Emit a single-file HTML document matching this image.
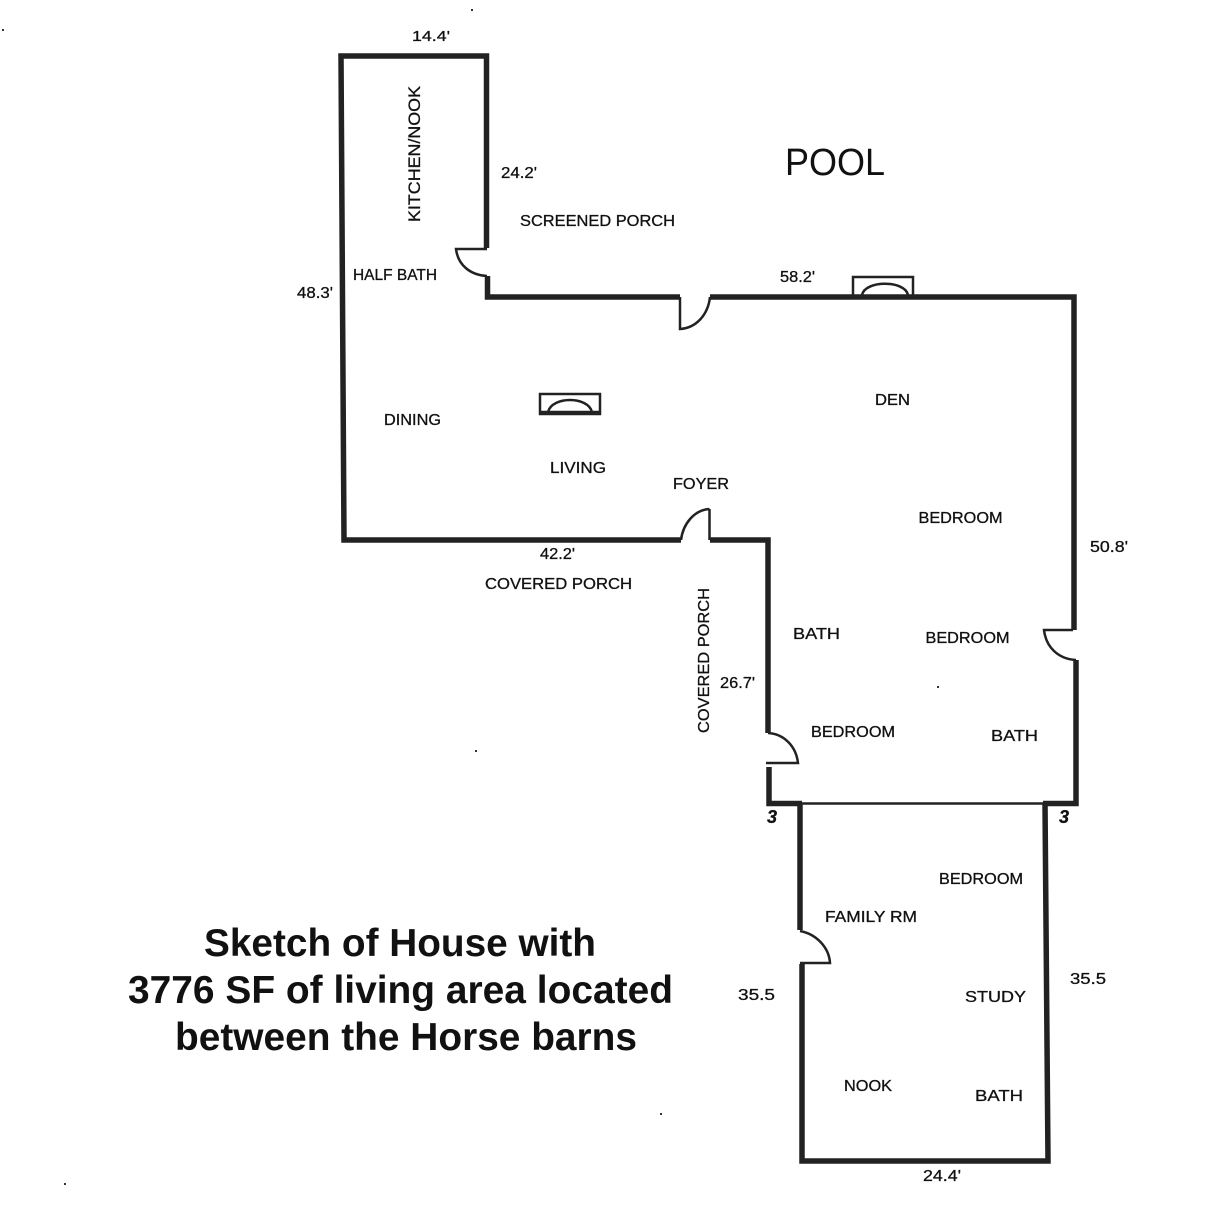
<!DOCTYPE html>
<html><head><meta charset="utf-8"><style>html,body{margin:0;padding:0;background:#fff}svg{display:block}text{font-family:"Liberation Sans",sans-serif;fill:#111}</style></head><body>
<svg width="1219" height="1213" viewBox="0 0 1219 1213" xmlns="http://www.w3.org/2000/svg">
<g fill="none" stroke="#222" stroke-width="5.5">
<path d="M486.5 248V56H341L344 540H681"/>
<path d="M487.500 276V297H680"/>
<path d="M710 297H1074V630"/>
<path d="M1076 660V803.500H1043"/>
<path d="M802 803.500H769V767"/>
<path d="M710 540H768V733"/>
<path d="M800 803V930"/>
<path d="M802 964V1161H1048L1045 803"/>
</g>
<g fill="none" stroke="#222" stroke-width="2.5">
<path d="M802 803.500H1043"/>
<path d="M487 249H456C458 265 470 275 487 276"/>
<path d="M680 297V329C696 328 708 315 710 297"/>
<path d="M709.500 509V540M681 540C683 524 694 510 709.500 509"/>
<path d="M1073 630H1044C1046 647 1058 659 1076 660"/>
<path d="M768 733C784 734 796 746 798 763H766"/>
<path d="M800 931C816 934 829 947 830 963H800"/>
<path d="M853 297V277H913V297M862 295C865 280 905 280 908 295"/>
<rect x="540" y="394" width="60" height="20"/>
<path d="M548 412C552 396 588 396 592 412M540 412H600"/>
</g>
<g font-size="16" text-anchor="middle" stroke="#111" stroke-width="0.3">
<text x="431" y="41" font-size="15" textLength="38" lengthAdjust="spacingAndGlyphs">14.4'</text>
<text x="519" y="178" font-size="16" textLength="36" lengthAdjust="spacingAndGlyphs">24.2'</text>
<text x="597.500" y="226" textLength="155" lengthAdjust="spacingAndGlyphs">SCREENED PORCH</text>
<text x="395" y="280" textLength="84" lengthAdjust="spacingAndGlyphs">HALF BATH</text>
<text x="797.500" y="282" font-size="16" textLength="35" lengthAdjust="spacingAndGlyphs">58.2'</text>
<text x="315" y="298" font-size="16" textLength="36" lengthAdjust="spacingAndGlyphs">48.3'</text>
<text x="412.500" y="425" textLength="57" lengthAdjust="spacingAndGlyphs">DINING</text>
<text x="892.500" y="405" textLength="35" lengthAdjust="spacingAndGlyphs">DEN</text>
<text x="578" y="473" textLength="56" lengthAdjust="spacingAndGlyphs">LIVING</text>
<text x="701" y="489" textLength="56" lengthAdjust="spacingAndGlyphs">FOYER</text>
<text x="960.500" y="523" textLength="84" lengthAdjust="spacingAndGlyphs">BEDROOM</text>
<text x="1109" y="552" font-size="16" textLength="38" lengthAdjust="spacingAndGlyphs">50.8'</text>
<text x="557.500" y="559" font-size="16" textLength="35" lengthAdjust="spacingAndGlyphs">42.2'</text>
<text x="558.500" y="589" textLength="147" lengthAdjust="spacingAndGlyphs">COVERED PORCH</text>
<text x="816.500" y="639" textLength="47" lengthAdjust="spacingAndGlyphs">BATH</text>
<text x="967.500" y="643" textLength="84" lengthAdjust="spacingAndGlyphs">BEDROOM</text>
<text x="737.500" y="688" font-size="16" textLength="35" lengthAdjust="spacingAndGlyphs">26.7'</text>
<text x="853" y="737" textLength="84" lengthAdjust="spacingAndGlyphs">BEDROOM</text>
<text x="1014.500" y="741" textLength="47" lengthAdjust="spacingAndGlyphs">BATH</text>
<text x="772" y="823" font-size="18" font-style="italic" font-weight="700">3</text>
<text x="1064" y="823" font-size="18" font-style="italic" font-weight="700">3</text>
<text x="981" y="884" textLength="84" lengthAdjust="spacingAndGlyphs">BEDROOM</text>
<text x="871" y="922" textLength="92" lengthAdjust="spacingAndGlyphs">FAMILY RM</text>
<text x="995.500" y="1002" textLength="61" lengthAdjust="spacingAndGlyphs">STUDY</text>
<text x="1088" y="984" font-size="16" textLength="36" lengthAdjust="spacingAndGlyphs">35.5</text>
<text x="756.500" y="1000" font-size="16" textLength="37" lengthAdjust="spacingAndGlyphs">35.5</text>
<text x="868" y="1091" textLength="48" lengthAdjust="spacingAndGlyphs">NOOK</text>
<text x="999" y="1101" textLength="48" lengthAdjust="spacingAndGlyphs">BATH</text>
<text x="942" y="1181" font-size="16" textLength="38" lengthAdjust="spacingAndGlyphs">24.4'</text>
<text transform="translate(420 154) rotate(-90)" font-size="17" textLength="136" lengthAdjust="spacingAndGlyphs">KITCHEN/NOOK</text>
<text transform="translate(709 660.500) rotate(-90)" textLength="145" lengthAdjust="spacingAndGlyphs">COVERED PORCH</text>
</g>
<text x="835" y="175" font-size="38" text-anchor="middle" textLength="100" lengthAdjust="spacingAndGlyphs">POOL</text>
<g font-size="39" font-weight="700" text-anchor="middle">
<text x="400" y="956" textLength="392" lengthAdjust="spacingAndGlyphs">Sketch of House with</text>
<text x="400.500" y="1003" textLength="545" lengthAdjust="spacingAndGlyphs">3776 SF of living area located</text>
<text x="406" y="1050" textLength="462" lengthAdjust="spacingAndGlyphs">between the Horse barns</text>
</g>
<g fill="#333">
<rect x="471" y="9" width="2" height="2"/>
<rect x="2" y="29" width="2" height="2"/>
<rect x="475" y="750" width="2" height="2"/>
<rect x="937" y="686" width="2" height="2"/>
<rect x="660" y="1113" width="2" height="2"/>
<rect x="64" y="1183" width="2" height="2"/>
</g>
</svg>
</body></html>
